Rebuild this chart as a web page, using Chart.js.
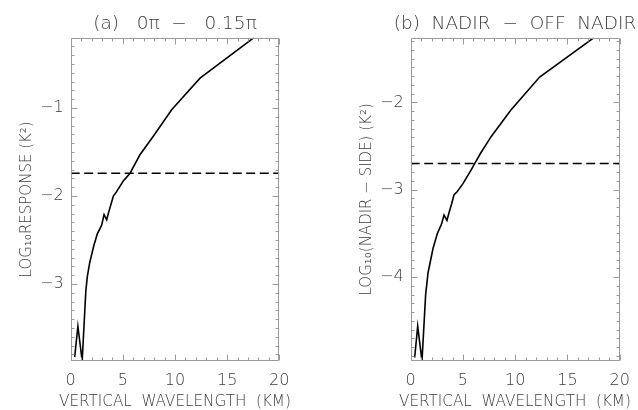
<!DOCTYPE html>
<html><head><meta charset="utf-8">
<script src="https://cdn.jsdelivr.net/npm/chart.js@4"></script>
<style>
html,body{margin:0;padding:0;background:#fff;}
#wrap{position:relative;width:638px;height:410px;overflow:hidden;}
.p{position:absolute;top:0;height:410px;}
</style></head><body>
<div id="wrap">
<div class="p" style="left:0;width:350px"><canvas id="ca" width="350" height="410"></canvas></div>
<div class="p" style="left:315px;width:400px"><canvas id="cb" width="400" height="410"></canvas></div>
</div>
<script>
// ---- data ----
const xTickLabels = [0, 5, 10, 15, 20];

const aTitle = '(a)   0\u03C0  \u2212   0.15\u03C0';
const aYTitle = 'LOG\u2081\u2080RESPONSE (K\u00B2)';
const aYTicks = [-3, -2, -1];
const aYRange = [-3.875, -0.2];
const aThreshold = -1.74;
const aWavelength = [0.38, 0.69, 1.1, 1.45, 1.6, 1.82, 2.2, 2.55, 2.85, 2.97, 3.2, 3.45, 3.65, 3.9, 4.09, 4.4, 5.04, 5.69, 6.64, 7.92, 9.68, 12.4, 17.57];
const aResponse   = [-3.83, -3.48, -3.875, -3.08, -2.91, -2.76, -2.57, -2.43, -2.36, -2.33, -2.21, -2.27, -2.18, -2.08, -2.0, -1.95, -1.83, -1.74, -1.53, -1.32, -1.02, -0.66, -0.2];

const bTitle = '(b)  NADIR  \u2212  OFF  NADIR';
const bYTitle = 'LOG\u2081\u2080(NADIR \u2212 SIDE) (K\u00B2)';
const bYTicks = [-4, -3, -2];
const bYRange = [-4.96, -1.26];
const bThreshold = -2.70;
const bWavelength = [0.38, 0.67, 1.08, 1.43, 1.66, 2.14, 2.55, 2.93, 3.19, 3.47, 3.7, 3.92, 4.14, 4.46, 5.0, 5.8, 6.12, 6.7, 7.71, 9.57, 12.34, 17.54];
const bDiff       = [-4.92, -4.56, -4.96, -4.20, -3.95, -3.67, -3.50, -3.40, -3.29, -3.35, -3.25, -3.16, -3.06, -3.02, -2.93, -2.77, -2.70, -2.58, -2.39, -2.09, -1.71, -1.26];

const xTitle = 'VERTICAL  WAVELENGTH  (KM)';
const xRange = [0, 20];

// ---- styling ----
const FONT = '"DejaVu Sans"';
const WEIGHT = 200;
const TEXT = '#3a3a3a';
const AXIS = '#9a9a9a';

const framePlugin = {
  id: 'frame',
  afterDatasetsDraw(chart) {
    const ctx = chart.ctx, a = chart.chartArea;
    const xs = chart.scales.x, ys = chart.scales.y;
    ctx.save();
    ctx.strokeStyle = AXIS;
    ctx.lineWidth = 1;
    const L = Math.round(a.left) + 0.5, R = Math.round(a.right) - 0.5;
    const T = Math.round(a.top) + 0.5, B = Math.round(a.bottom) - 0.5;
    ctx.beginPath();
    ctx.rect(L, T, R - L, B - T);
    for (let v = Math.ceil(xs.min); v <= xs.max; v++) {
      const px = Math.round(xs.getPixelForValue(v)) + 0.5;
      const len = (v % 5 === 0) ? 6 : 3;
      ctx.moveTo(px, B); ctx.lineTo(px, B - len);
      ctx.moveTo(px, T); ctx.lineTo(px, T + len);
    }
    for (let i = Math.ceil(ys.min * 10 - 1e-6); i <= Math.floor(ys.max * 10 + 1e-6); i++) {
      const py = Math.round(ys.getPixelForValue(i / 10)) + 0.5;
      const len = (i % 10 === 0) ? 6 : 3;
      ctx.moveTo(L, py); ctx.lineTo(L + len, py);
      ctx.moveTo(R, py); ctx.lineTo(R - len, py);
    }
    ctx.stroke();
    ctx.restore();
  }
};

function fmt(v) { return v < 0 ? '\u2212' + Math.abs(v) : String(v); }

function makePanel(id, o) {
  const pts = o.xs.map((x, i) => ({ x: x, y: o.ys[i] }));
  new Chart(document.getElementById(id), {
    type: 'line',
    data: {
      datasets: [
        { data: pts, borderColor: '#000', borderWidth: 1.6, pointRadius: 0, tension: 0, fill: false },
        { data: [{ x: xRange[0], y: o.thr }, { x: xRange[1], y: o.thr }], borderColor: '#000', borderWidth: 1.5, borderDash: [9, 4.5], pointRadius: 0, fill: false }
      ]
    },
    options: {
      responsive: false, animation: false, devicePixelRatio: 1,
      layout: { padding: 0 },
      plugins: {
        legend: { display: false }, tooltip: { enabled: false },
        title: { display: true, text: o.title, color: TEXT,
          font: { family: FONT, size: 18.5, weight: WEIGHT, lineHeight: 1.2 },
          padding: { top: 13.5, bottom: 2.0 } },
        subtitle: { display: true, position: 'bottom', text: xTitle, color: TEXT,
          font: { family: FONT, size: 15.2, weight: WEIGHT, lineHeight: 1 },
          padding: { top: 2.5, bottom: 0.5 } }
      },
      scales: {
        x: {
          type: 'linear', min: xRange[0], max: xRange[1],
          afterBuildTicks: s => { s.ticks = xTickLabels.map(v => ({ value: v })); },
          afterFit: s => { s.height = 30.8; },
          grid: { display: false, drawTicks: false }, border: { display: false },
          ticks: { color: TEXT, padding: 10, maxRotation: 0, autoSkip: false, callback: fmt,
            font: { family: FONT, size: 16, weight: WEIGHT } }
        },
        y: {
          type: 'linear', min: o.yr[0], max: o.yr[1],
          afterBuildTicks: s => { s.ticks = o.yt.map(v => ({ value: v })); },
          afterFit: s => { s.width = o.yWidth; },
          grid: { display: false, drawTicks: false }, border: { display: false },
          ticks: { color: TEXT, padding: 7, autoSkip: false, callback: fmt,
            font: { family: FONT, size: 16, weight: WEIGHT } },
          title: { display: true, text: o.yTitle, color: TEXT, padding: { top: o.yTitlePad, bottom: 0 },
            font: { family: FONT, size: 15, weight: WEIGHT, lineHeight: 1.2 } }
        },
        y2: {
          type: 'linear', position: 'right', display: true,
          afterFit: s => { s.width = o.rightWidth; },
          grid: { display: false, drawTicks: false }, border: { display: false },
          ticks: { display: false }
        }
      }
    },
    plugins: [framePlugin]
  });
}

makePanel('ca', { xs: aWavelength, ys: aResponse, thr: aThreshold, yr: aYRange, yt: aYTicks,
  title: aTitle, yTitle: aYTitle, yWidth: 70.7, rightWidth: 70.7, yTitlePad: 17.7 });
makePanel('cb', { xs: bWavelength, ys: bDiff, thr: bThreshold, yr: bYRange, yt: bYTicks,
  title: bTitle, yTitle: bYTitle, yWidth: 95.7, rightWidth: 95.3, yTitlePad: 42.7 });
</script>
</body></html>
